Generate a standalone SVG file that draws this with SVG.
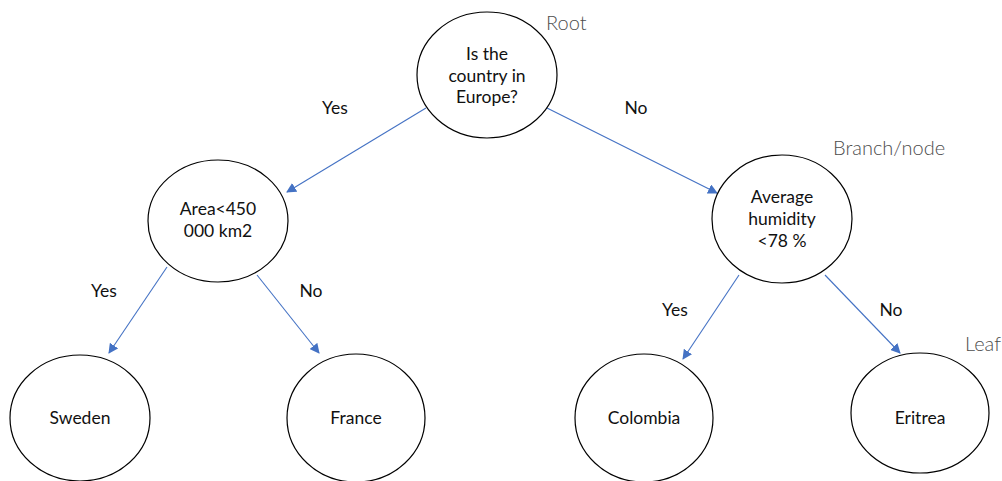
<svg xmlns="http://www.w3.org/2000/svg" width="1002" height="481" viewBox="0 0 1002 481">
<style>
.node{fill:#fff;stroke:#000;stroke-width:1.2}
.t{font-family:Lato,"Open Sans",sans-serif;font-size:17.5px;fill:#111;text-anchor:middle}
.lbl{font-family:Lato,"Open Sans",sans-serif;font-size:17.5px;fill:#111;text-anchor:middle}
.ann{font-family:Lato,"Open Sans",sans-serif;font-weight:300;font-size:20px;fill:#4d4d4d}
.edge{stroke:#4472C4;stroke-width:1.1;fill:none;marker-end:url(#ah)}
</style>
<defs>
<marker id="ah" viewBox="0 0 10 10" refX="9" refY="5" markerWidth="10" markerHeight="10" markerUnits="userSpaceOnUse" orient="auto">
<path d="M0,0 L10,5 L0,10 Z" fill="#4472C4"/>
</marker>
</defs>
<rect width="1002" height="481" fill="#fff"/>
<g id="connectors">
<line class="edge" x1="426" y1="108" x2="287" y2="192"/>
<line class="edge" x1="547" y1="108" x2="717" y2="193"/>
<line class="edge" x1="167" y1="267" x2="109" y2="353"/>
<line class="edge" x1="257" y1="275" x2="319" y2="353"/>
<line class="edge" x1="739" y1="275" x2="683" y2="359"/>
<line class="edge" x1="825" y1="275" x2="900" y2="353"/>
</g>
<g id="edge-labels">
<text class="lbl" x="335" y="114">Yes</text>
<text class="lbl" x="636" y="114">No</text>
<text class="lbl" x="104" y="297">Yes</text>
<text class="lbl" x="311" y="297">No</text>
<text class="lbl" x="675" y="316">Yes</text>
<text class="lbl" x="891" y="316">No</text>
</g>
<g id="root">
<ellipse class="node" cx="487" cy="75" rx="70" ry="63"/>
<text class="t" x="487" y="60">Is the</text>
<text class="t" x="487" y="82">country in</text>
<text class="t" x="487" y="103">Europe?</text>
</g>
<g id="area">
<ellipse class="node" cx="218" cy="221" rx="70" ry="61"/>
<text class="t" x="218" y="215">Area&lt;450</text>
<text class="t" x="218" y="237">000 km2</text>
</g>
<g id="humidity">
<ellipse class="node" cx="782" cy="219" rx="70" ry="64"/>
<text class="t" x="782" y="203">Average</text>
<text class="t" x="782" y="225">humidity</text>
<text class="t" x="782" y="247">&lt;78 %</text>
</g>
<g id="sweden">
<ellipse class="node" cx="80" cy="418" rx="70" ry="63"/>
<text class="t" x="80" y="424">Sweden</text>
</g>
<g id="france">
<ellipse class="node" cx="356" cy="418" rx="69" ry="64"/>
<text class="t" x="356" y="424">France</text>
</g>
<g id="colombia">
<ellipse class="node" cx="644" cy="418" rx="69" ry="64"/>
<text class="t" x="644" y="424">Colombia</text>
</g>
<g id="eritrea">
<ellipse class="node" cx="920" cy="413" rx="69" ry="60"/>
<text class="t" x="920" y="424">Eritrea</text>
</g>
<g id="annotations">
<text class="ann" x="546" y="30">Root</text>
<text class="ann" x="833" y="155">Branch/node</text>
<text class="ann" x="965" y="351">Leaf</text>
</g>
</svg>
